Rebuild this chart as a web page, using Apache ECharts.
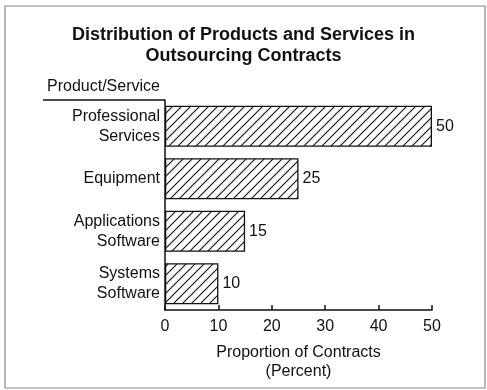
<!DOCTYPE html>
<html><head><meta charset="utf-8">
<script src="https://cdn.jsdelivr.net/npm/echarts@6/dist/echarts.min.js"></script>
<style>html,body{margin:0;padding:0;background:#fff}#c{width:487px;height:390px}</style>
</head><body><div id="c"></div>
<script>
const categories = ['Professional\nServices', 'Equipment', 'Applications\nSoftware', 'Systems\nSoftware'];
const values = [50, 25, 15, 10];
const xTicks = [0, 10, 20, 30, 40, 50];
const titleText = 'Distribution of Products and Services in\nOutsourcing Contracts';
const yAxisTitle = 'Product/Service';
const xAxisTitle = 'Proportion of Contracts\n(Percent)';

const FONT = '"Liberation Sans", Arial, sans-serif';

function hatch() {
  const s = 9;
  const c = document.createElement('canvas');
  c.width = s; c.height = s;
  const g = c.getContext('2d');
  g.fillStyle = '#fff'; g.fillRect(0, 0, s, s);
  g.strokeStyle = '#111'; g.lineWidth = 1.1;
  g.beginPath();
  g.moveTo(-1, s + 1); g.lineTo(s + 1, -1);
  g.moveTo(-1, 1); g.lineTo(1, -1);
  g.moveTo(s - 1, s + 1); g.lineTo(s + 1, s - 1);
  g.stroke();
  return c;
}

const chart = echarts.init(document.getElementById('c'), null, {renderer: 'canvas'});
chart.setOption({
  backgroundColor: '#fff',
  animation: false,
  title: {
    text: titleText, left: 'center', top: 20,
    textStyle: {fontFamily: FONT, fontSize: 18, fontWeight: 'bold', color: '#111', lineHeight: 21}
  },
  grid: {left: 165, right: 55, top: 100, bottom: 80, containLabel: false},
  xAxis: {
    type: 'value', min: 0, max: 50, interval: 10,
    axisLine: {show: true, lineStyle: {color: '#111', width: 1.5}},
    axisTick: {show: true, inside: true, length: 5, lineStyle: {color: '#111', width: 1.5}},
    splitLine: {show: false},
    axisLabel: {fontFamily: FONT, fontSize: 16, color: '#111', margin: 9,
      formatter: v => xTicks.includes(v) ? String(v) : ''},
    name: xAxisTitle, nameLocation: 'middle', nameGap: 33,
    nameTextStyle: {fontFamily: FONT, fontSize: 16, color: '#111', lineHeight: 19}
  },
  yAxis: {
    type: 'category', data: categories, inverse: true,
    axisLine: {show: true, lineStyle: {color: '#111', width: 1.5}},
    axisTick: {show: false},
    axisLabel: {fontFamily: FONT, fontSize: 16, color: '#111', margin: 5, lineHeight: 20, align: 'right'}
  },
  series: [{
    type: 'bar', data: values, barWidth: 41,
    itemStyle: {color: {image: hatch(), repeat: 'repeat'}, borderColor: '#111', borderWidth: 1.3},
    label: {show: true, position: 'right', distance: 4, fontFamily: FONT, fontSize: 16, color: '#111'}
  }],
  graphic: [
    {type: 'rect', shape: {x: 5, y: 6, width: 480, height: 382}, style: {fill: 'none', stroke: '#888', lineWidth: 1.2}, silent: true},
    {type: 'line', shape: {x1: 43, y1: 100, x2: 165, y2: 100}, style: {stroke: '#111', lineWidth: 1.5}},
    {type: 'text', left: 47, top: 79, style: {text: yAxisTitle, font: '16px ' + FONT, fill: '#111'}}
  ]
});
</script></body></html>
